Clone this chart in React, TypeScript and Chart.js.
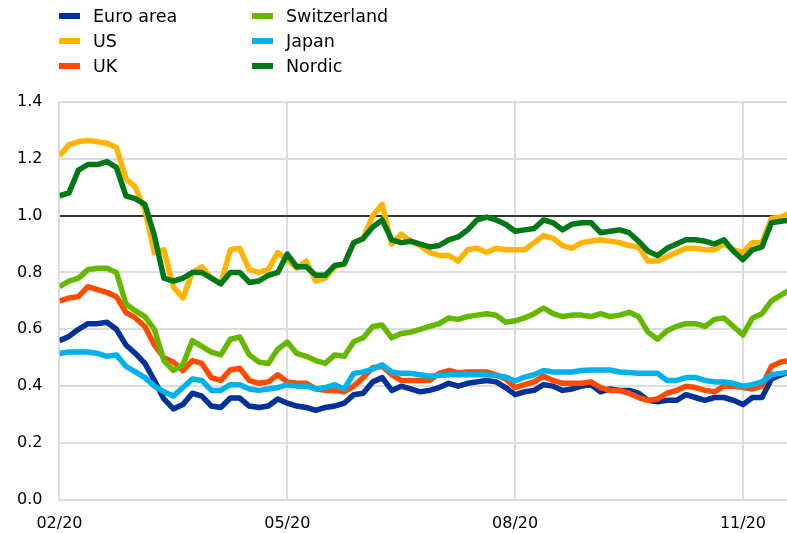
import React, { useEffect, useRef } from "react";
import { Chart, registerables } from "chart.js";

Chart.register(...registerables);

// x positions: months since 1 Feb 2020, one observation every 1/8 month
const sampleStepMonths = 1 / 8;
const axisEndMonths = 9.58;
const tickPositions = [0, 3, 6, 9];
const tickLabels = ["02/20", "05/20", "08/20", "11/20"];
const yTicks = [0, 0.2, 0.4, 0.6, 0.8, 1.0, 1.2, 1.4];

const euroArea = [
  0.56, 0.575, 0.6, 0.62, 0.62, 0.625, 0.6, 0.545, 0.515, 0.48,
  0.42, 0.355, 0.32, 0.335, 0.375, 0.365, 0.33, 0.325, 0.358, 0.358,
  0.33, 0.325, 0.33, 0.355, 0.34, 0.33, 0.325, 0.315, 0.325, 0.33,
  0.34, 0.37, 0.375, 0.415, 0.43, 0.385, 0.4, 0.39, 0.38, 0.385,
  0.395, 0.41, 0.4, 0.41, 0.415, 0.42, 0.415, 0.395, 0.37, 0.38,
  0.385, 0.405, 0.4, 0.385, 0.39, 0.4, 0.405, 0.38, 0.39, 0.385,
  0.385, 0.375, 0.35, 0.345, 0.35, 0.35, 0.37, 0.36, 0.35, 0.36,
  0.36, 0.35, 0.335, 0.36, 0.36, 0.425, 0.44, 0.45,
];

const us = [
  1.21, 1.25, 1.26, 1.265, 1.26, 1.255, 1.24, 1.13, 1.1, 1.02,
  0.87, 0.88, 0.75, 0.71, 0.8, 0.82, 0.78, 0.76, 0.88, 0.885,
  0.81, 0.8, 0.81, 0.87, 0.845, 0.815, 0.84, 0.77, 0.78, 0.82,
  0.83, 0.905, 0.92, 1.0, 1.04, 0.9, 0.935, 0.91, 0.895, 0.87,
  0.86, 0.86, 0.84, 0.88, 0.885, 0.87, 0.885, 0.88, 0.88, 0.88,
  0.905, 0.93, 0.92, 0.895, 0.885, 0.905, 0.91, 0.915, 0.91, 0.905,
  0.895, 0.89, 0.84, 0.84, 0.855, 0.87, 0.885, 0.885, 0.88, 0.88,
  0.9, 0.88, 0.87, 0.905, 0.905, 0.99, 0.995, 1.01,
];

const uk = [
  0.7, 0.71, 0.715, 0.75, 0.74, 0.73, 0.715, 0.66, 0.64, 0.61,
  0.545, 0.5, 0.485, 0.455, 0.49, 0.48, 0.43, 0.42, 0.457, 0.463,
  0.42, 0.41, 0.415, 0.44, 0.415, 0.41, 0.41, 0.39, 0.385, 0.385,
  0.38, 0.4, 0.43, 0.465, 0.47, 0.44, 0.42, 0.42, 0.42, 0.42,
  0.445, 0.455, 0.447, 0.45, 0.45, 0.45, 0.44, 0.425, 0.395, 0.405,
  0.415, 0.435, 0.42, 0.41, 0.41, 0.41, 0.415, 0.395, 0.385, 0.385,
  0.375, 0.36, 0.35, 0.355, 0.375, 0.385, 0.4, 0.395, 0.385, 0.38,
  0.4, 0.4, 0.395, 0.39, 0.4, 0.47, 0.485, 0.49,
];

const switzerland = [
  0.75, 0.77, 0.78, 0.81, 0.815, 0.815, 0.8, 0.69, 0.665, 0.645,
  0.6, 0.49, 0.455, 0.475, 0.56, 0.54, 0.52, 0.51, 0.565, 0.573,
  0.51, 0.485, 0.48, 0.53, 0.555, 0.515, 0.505, 0.49, 0.48, 0.51,
  0.505, 0.556, 0.57, 0.61, 0.615, 0.57, 0.585, 0.59, 0.6, 0.61,
  0.62, 0.64, 0.635, 0.645, 0.65, 0.655, 0.65, 0.625, 0.63, 0.64,
  0.655, 0.675, 0.655, 0.645, 0.65, 0.65, 0.645, 0.655, 0.645, 0.65,
  0.66, 0.645, 0.59, 0.565, 0.595, 0.61, 0.62, 0.62, 0.61, 0.635,
  0.64, 0.61, 0.58, 0.64, 0.655, 0.7, 0.72, 0.74,
];

const japan = [
  0.515, 0.52, 0.52, 0.52, 0.515, 0.505, 0.51, 0.47, 0.45, 0.43,
  0.4, 0.38, 0.365, 0.395, 0.425, 0.42, 0.385, 0.385, 0.405, 0.405,
  0.39, 0.385, 0.39, 0.395, 0.405, 0.4, 0.4, 0.39, 0.395, 0.405,
  0.39, 0.445, 0.45, 0.46, 0.475, 0.45, 0.445, 0.445, 0.44, 0.435,
  0.438, 0.44, 0.44, 0.44, 0.44, 0.44, 0.437, 0.432, 0.418, 0.432,
  0.44, 0.455, 0.45, 0.45, 0.45, 0.455, 0.457, 0.457, 0.457, 0.45,
  0.448, 0.445, 0.445, 0.445, 0.42, 0.42, 0.43, 0.43, 0.42, 0.415,
  0.415, 0.41, 0.4, 0.405, 0.415, 0.44, 0.445, 0.45,
];

const nordic = [
  1.07, 1.08, 1.16, 1.18, 1.18, 1.19, 1.17, 1.07, 1.06, 1.04,
  0.93, 0.78, 0.77, 0.78, 0.8, 0.8, 0.78, 0.76, 0.8, 0.8,
  0.765, 0.77, 0.79, 0.8, 0.865, 0.82, 0.82, 0.79, 0.79, 0.825,
  0.83, 0.905, 0.92, 0.96, 0.985, 0.915, 0.905, 0.91, 0.9, 0.89,
  0.895, 0.915, 0.925, 0.95, 0.985, 0.995, 0.985, 0.97, 0.945, 0.95,
  0.955, 0.985, 0.975, 0.95, 0.97, 0.975, 0.975, 0.94, 0.945, 0.95,
  0.94, 0.91, 0.875, 0.86, 0.885, 0.9, 0.915, 0.915, 0.91, 0.9,
  0.915, 0.875, 0.845, 0.88, 0.89, 0.975, 0.98, 0.985,
];

const seriesNames = ["Euro area", "US", "UK", "Switzerland", "Japan", "Nordic"];
const seriesColors = ["#003299", "#FFB400", "#FF4B00", "#65B800", "#00B1EA", "#007816"];
const seriesValues = [euroArea, us, uk, switzerland, japan, nordic];

const FONT = "'DejaVu Sans', 'Liberation Sans', Arial, sans-serif";

export default function App() {
  const canvasRef = useRef<HTMLCanvasElement | null>(null);

  useEffect(() => {
    document.body.style.margin = "0";
    const canvas = canvasRef.current;
    if (!canvas) return;
    const n = seriesValues.length;
    const chart = new Chart(canvas, {
      type: "line",
      data: {
        datasets: seriesValues.map((vals, k) => ({
          label: seriesNames[k],
          data: vals.map((v, i) => ({ x: i * sampleStepMonths, y: v })),
          borderColor: seriesColors[k],
          backgroundColor: seriesColors[k],
          borderWidth: 5.5,
          pointRadius: 0,
          tension: 0,
          fill: false,
          borderJoinStyle: "round" as const,
          order: n - 1 - k,
        })),
      },
      options: {
        animation: false,
        responsive: false,
        maintainAspectRatio: false,
        devicePixelRatio: 1,
        layout: { padding: { left: 0, right: 0, top: 102, bottom: 0 } },
        plugins: {
          legend: { display: false },
          tooltip: { enabled: false },
        },
        scales: {
          x: {
            type: "linear",
            min: 0,
            max: axisEndMonths,
            afterBuildTicks: (axis: any) => {
              axis.ticks = tickPositions.map((v) => ({ value: v }));
            },
            ticks: {
              autoSkip: false,
              maxRotation: 0,
              padding: 14,
              color: "#000",
              font: { family: FONT, size: 16 },
              callback: (v: any) => {
                const idx = tickPositions.indexOf(Number(v));
                return idx >= 0 ? tickLabels[idx] : "";
              },
            },
            grid: { color: "#dcdcdc", lineWidth: 2, drawTicks: false },
            border: { display: true, color: "#dcdcdc", width: 2 },
          },
          y: {
            type: "linear",
            min: 0,
            max: 1.4,
            afterBuildTicks: (axis: any) => {
              axis.ticks = yTicks.map((v) => ({ value: v }));
            },
            ticks: {
              padding: 17,
              color: "#000",
              font: { family: FONT, size: 16 },
              callback: (v: any) => Number(v).toFixed(1),
            },
            grid: {
              drawTicks: false,
              color: (ctx: any) =>
                ctx.tick && Math.abs(ctx.tick.value - 1) < 1e-9 ? "#333333" : "#dcdcdc",
              lineWidth: 2,
            },
            border: { display: true, color: "#dcdcdc", width: 2 },
          },
        },
      },
    });
    return () => chart.destroy();
  }, []);

  const rowCenters = [15.5, 40.7, 65.9];
  const colSwatchLeft = [59, 252];
  const colTextLeft = [93, 286];

  return (
    <div
      style={{
        position: "relative",
        width: 787,
        height: 533,
        overflow: "hidden",
        background: "#fff",
      }}
    >
      <canvas
        ref={canvasRef}
        width={787}
        height={547}
        style={{ position: "absolute", left: 0, top: 0, width: 787, height: 547 }}
      />
      {seriesNames.map((name, k) => {
        const col = Math.floor(k / 3);
        const row = k % 3;
        const c = rowCenters[row];
        return (
          <React.Fragment key={name}>
            <div
              style={{
                position: "absolute",
                left: colSwatchLeft[col],
                top: c - 3,
                width: 21,
                height: 6,
                background: seriesColors[k],
              }}
            />
            <div
              style={{
                position: "absolute",
                left: colTextLeft[col],
                top: c - 10,
                height: 20,
                lineHeight: "20px",
                fontFamily: FONT,
                fontSize: 17.5,
                color: "#000",
                whiteSpace: "nowrap",
              }}
            >
              {name}
            </div>
          </React.Fragment>
        );
      })}
    </div>
  );
}
